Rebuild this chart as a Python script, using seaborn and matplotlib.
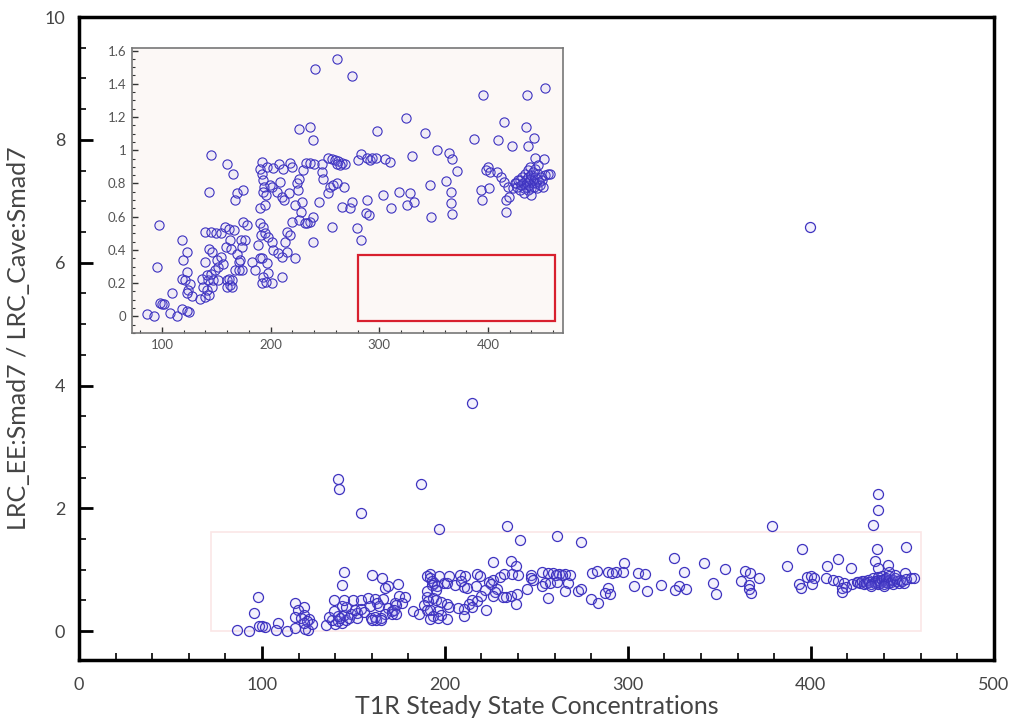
import numpy as np
import pandas as pd
import matplotlib
matplotlib.use("Agg")
import matplotlib.pyplot as plt
from matplotlib.patches import Rectangle
from matplotlib.ticker import MultipleLocator, FuncFormatter
import seaborn as sns

# ---- data: T1R steady state concentration vs ratio ----
x_low = [145, 160.2, 165.8, 168.9, 167.3, 174.3, 143.7, 97.8, 95.9, 100, 98.5, 101.5, 109, 86.2, 92.9,
         107.6, 113.7, 118.3, 125.3, 123.5, 118.3, 122.9, 119.8, 122.9, 118.3, 121.3, 125.9, 124.4, 127.5,
         123.0, 135.2, 139.8, 143.7, 141.3, 138.2, 145.9, 142.8, 136.7, 141.3, 145, 148.9, 151.9, 147.4,
         151.9, 159.6, 162.6, 139.5, 143.7, 145.9, 151, 154, 155.9, 139.5, 145, 149.6, 154.2, 157.9,
         161.8, 166.4, 162.7, 158.8, 164, 168.9, 171, 167.3, 171, 172.5, 174.9, 161.8, 164.8, 160.2, 164.8]
y_low = [0.97, 0.916, 0.86, 0.74, 0.70, 0.76, 0.75, 0.55, 0.30, 0.077, 0.08, 0.075, 0.14, 0.012, 0.0,
         0.02, 0.0, 0.046, 0.026, 0.03, 0.458, 0.39, 0.34, 0.267, 0.227, 0.217, 0.197, 0.157, 0.12,
         0.14, 0.107, 0.116, 0.127, 0.157, 0.18, 0.18, 0.217, 0.227, 0.247, 0.257, 0.277, 0.297, 0.217,
         0.22, 0.22, 0.187, 0.327, 0.408, 0.39, 0.337, 0.357, 0.317, 0.508, 0.508, 0.5, 0.5, 0.538,
         0.528, 0.518, 0.46, 0.417, 0.408, 0.378, 0.327, 0.277, 0.277, 0.458, 0.568, 0.227, 0.22, 0.18, 0.18]

x_mid = [240.8, 261.2, 226.4, 236.2, 238.6, 253.2, 256.2, 259.3, 262.4, 265.4, 268.5, 263.9, 260.8,
         191.8, 190.3, 191.8, 192.7, 193.9, 192.7, 195.7, 199.4, 200.9, 197, 202.5, 208, 211.1, 217.8,
         219.4, 205.6, 210.2, 217.2, 208.6, 224, 226.4, 230, 232.5, 225.4, 228.5, 236.5, 239.9, 247,
         247, 247.9, 254.5, 257.6, 261.2, 267.4, 253, 244.7, 265.4, 273, 274.6, 227.6, 226.4, 236.2,
         233.2, 239.2, 256.1, 238.7, 178, 176.5, 173.3, 171.9, 173.3, 190.3, 193.4, 190.9, 194.9, 198,
         188.8, 200.9, 202.5, 190.3, 214.8, 217.8, 213.2, 214.8, 222.4, 210.2, 207.1, 182.6, 185.7,
         191.8, 196.4, 198, 193.4, 191.8, 200.9, 210.2, 190, 195, 222, 231.6, 196, 212, 220]
y_mid = [1.49, 1.55, 1.125, 1.137, 1.06, 0.956, 0.95, 0.944, 0.935, 0.925, 0.916, 0.91, 0.92,
         0.93, 0.89, 0.86, 0.82, 0.78, 0.75, 0.73, 0.79, 0.78, 0.9, 0.896, 0.92, 0.89, 0.924,
         0.9, 0.75, 0.72, 0.74, 0.81, 0.8, 0.83, 0.88, 0.924, 0.76, 0.69, 0.924, 0.916, 0.916,
         0.87, 0.83, 0.78, 0.79, 0.8, 0.78, 0.74, 0.69, 0.66, 0.65, 0.69, 0.63, 0.58, 0.57,
         0.56, 0.60, 0.54, 0.45, 0.55, 0.46, 0.42, 0.34, 0.28, 0.56, 0.54, 0.49, 0.5, 0.48,
         0.43, 0.45, 0.40, 0.35, 0.51, 0.49, 0.45, 0.39, 0.35, 0.36, 0.38, 0.33, 0.28,
         0.35, 0.32, 0.26, 0.24, 0.20, 0.20, 0.24, 0.65, 0.67, 0.67, 0.56, 0.21, 0.70, 0.57]

x_high = [325, 298, 341.8, 353, 364, 367, 371.5, 330.5, 280.3, 283.4, 288.9, 291.3, 293.4, 297.4,
          305.6, 309.6, 346.4, 361.7, 366.3, 366.3, 367.2, 348, 318, 327.9, 331.7, 325.6, 303.5,
          310.3, 288.9, 287.3, 290.4, 274.5, 279.6, 283.6,
          395.3, 436, 452, 414.6, 435, 442, 437, 387, 409, 421.7, 442.8, 451.3, 397.8, 400, 401.5,
          408.5, 412, 415, 418, 422.6, 425.7, 429, 393.8, 394.7, 400.8, 416.8, 419, 416.8,
          425, 427, 428, 429, 430, 431, 432, 433, 434, 435, 435, 436, 437, 437, 437, 438, 438, 439,
          439, 440, 440, 441, 441, 442, 442, 443, 443, 444, 445, 445, 446, 447, 448, 449, 450, 451,
          452, 446, 433, 440, 455, 456.6]
y_high = [1.197, 1.116, 1.104, 1.004, 0.984, 0.95, 0.873, 0.964, 0.94, 0.976, 0.956, 0.944, 0.956, 0.956,
          0.95, 0.93, 0.79, 0.815, 0.75, 0.68, 0.614, 0.60, 0.75, 0.74, 0.69, 0.67, 0.73,
          0.65, 0.70, 0.62, 0.61, 1.446, 0.53, 0.46,
          1.335, 1.335, 1.377, 1.17, 1.137, 1.076, 1.024, 1.066, 1.06, 1.028, 0.956, 0.95, 0.884, 0.9, 0.87,
          0.87, 0.84, 0.81, 0.78, 0.77, 0.8, 0.82, 0.76, 0.70, 0.77, 0.70, 0.72, 0.63,
          0.8, 0.78, 0.82, 0.76, 0.79, 0.84, 0.8, 0.77, 0.86, 0.82, 0.78, 0.8, 0.88, 0.84, 0.76, 0.81, 0.79, 0.9,
          0.83, 0.77, 0.85, 0.8, 0.87, 0.82, 0.78, 0.84, 0.89, 0.8, 0.83, 0.77, 0.86, 0.81, 0.79, 0.84, 0.82, 0.78,
          0.85, 0.91, 0.74, 0.73, 0.86, 0.86]

x_out = [399.5, 214.6, 141.5, 142, 154, 187, 196.7, 234, 379, 437, 436.6, 434]
y_out = [6.58, 3.71, 2.47, 2.31, 1.92, 2.39, 1.66, 1.71, 1.71, 2.23, 1.97, 1.73]

main_yticks = [0, 2, 4, 6, 8, 10]
main_xticks = [0, 100, 200, 300, 400, 500]
inset_yticks = [0, 0.2, 0.4, 0.6, 0.8, 1.0, 1.2, 1.4, 1.6]
inset_xticks = [100, 200, 300, 400]

df = pd.DataFrame({
    "T1R": x_low + x_mid + x_high + x_out,
    "ratio": y_low + y_mid + y_high + y_out,
})

sns.set_style("white")
plt.rcParams["font.family"] = ["Lato", "DejaVu Sans"]

fig = plt.figure(figsize=(10.13, 7.24), dpi=100)
ax = fig.add_axes([0.078, 0.0884, 0.903, 0.888])

edge = "#3e33c0"
face = (0.62, 0.58, 0.95, 0.12)
text_c = "#444444"

sns.scatterplot(data=df, x="T1R", y="ratio", ax=ax, s=52, color=face,
                edgecolor=edge, linewidth=0.9, zorder=3, legend=False)

# faint outline of zoomed region
ax.add_patch(Rectangle((72, 0.0), 388, 1.62, fill=False, edgecolor="#fbe6e6", lw=1.2, zorder=1))

ax.set_xlim(0, 500)
ax.set_ylim(-0.47, 10)
ax.set_xticks(main_xticks)
ax.set_yticks(main_yticks)
ax.xaxis.set_minor_locator(MultipleLocator(20))
ax.yaxis.set_minor_locator(MultipleLocator(0.5))
ax.tick_params(which="major", direction="in", length=10, width=2, color="black",
               labelsize=13, labelcolor=text_c)
ax.tick_params(axis="x", which="major", pad=12)
ax.tick_params(axis="y", which="major", pad=10)
ax.tick_params(which="minor", direction="in", length=5, width=1.2, color="black")
ax.tick_params(left=True, bottom=True, which="both")
for sp in ax.spines.values():
    sp.set_linewidth(2.5)
    sp.set_color("black")
ax.set_xlabel("T1R Steady State Concentrations", fontsize=18, color=text_c, labelpad=2)
ax.set_ylabel("LRC_EE:Smad7 / LRC_Cave:Smad7", fontsize=18, color=text_c, labelpad=10)

# ---- inset ----
ins = fig.add_axes([0.1303, 0.540, 0.4255, 0.3936])
ins.set_facecolor("#fcf8f6")
sns.scatterplot(data=df, x="T1R", y="ratio", ax=ins, s=44, color=face,
                edgecolor=edge, linewidth=0.8, zorder=3, legend=False)
ins.add_patch(Rectangle((280, -0.025), 182, 0.397, fill=False, edgecolor="#d8202e", lw=1.6, zorder=4))
ins.set_xlim(72.5, 469)
ins.set_ylim(-0.1, 1.615)
ins.set_xticks(inset_xticks)
ins.set_yticks(inset_yticks)
ins.yaxis.set_major_formatter(FuncFormatter(lambda v, p: f"{v:g}"))
ins.xaxis.set_minor_locator(MultipleLocator(20))
ins.yaxis.set_minor_locator(MultipleLocator(0.05))
ins.tick_params(which="major", direction="in", length=4, width=1, color="#333333",
                labelsize=9.5, labelcolor="#555555", pad=4)
ins.tick_params(which="minor", direction="in", length=2, width=0.8, color="#333333")
ins.tick_params(left=True, bottom=True, which="both")
for sp in ins.spines.values():
    sp.set_linewidth(1.2)
    sp.set_color("#777777")
ins.set_xlabel("")
ins.set_ylabel("")

fig.savefig("out.png", dpi=100)
